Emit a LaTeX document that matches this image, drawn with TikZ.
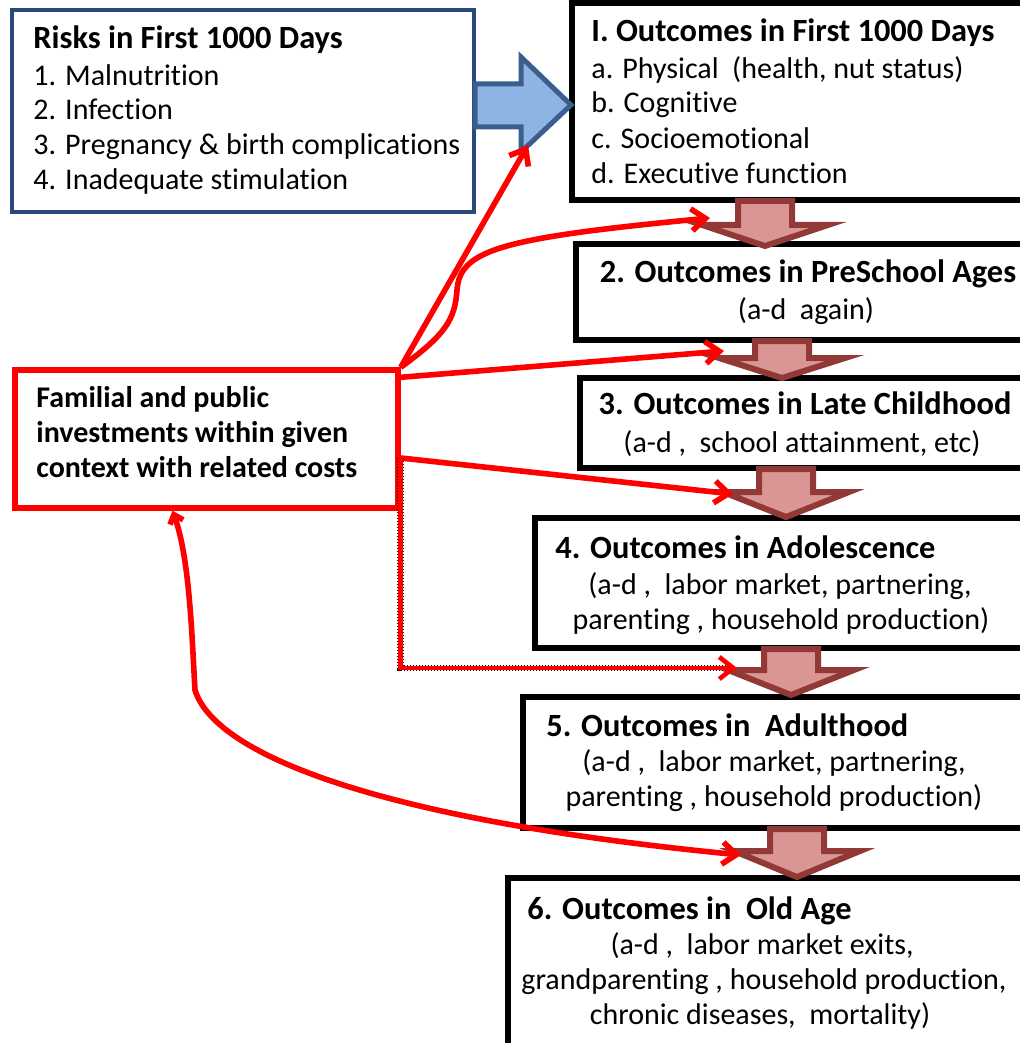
\documentclass[tikz,border=0pt]{standalone}
\usepackage{fontspec}
\setmainfont{Carlito}[Ligatures={NoCommon}]
\usetikzlibrary{arrows.meta,positioning}
\definecolor{RiskBlue}{RGB}{40,74,122}
\definecolor{ArrowBlue}{RGB}{142,180,227}
\definecolor{ArrowBlueDark}{RGB}{58,94,142}
\definecolor{BrownDark}{RGB}{146,56,54}
\definecolor{BrownLight}{RGB}{217,150,148}

\begin{document}
\begin{tikzpicture}[x=0.5pt,y=-0.5pt,
        riskbox/.style={draw=RiskBlue,line width=2pt,fill=white},
        outbox/.style={draw=black,line width=3pt,fill=white},
        investbox/.style={draw=red,line width=2.7pt,fill=white},
        head/.style={font=\bfseries\fontsize{16.2}{18}\selectfont,inner sep=0pt,anchor=base west},
        body/.style={font=\fontsize{15}{18}\selectfont,inner sep=0pt,anchor=base west},
        ihead/.style={head,font=\bfseries\fontsize{15}{18}\selectfont},
        mid/.style={body,anchor=base},
        midhead/.style={head,anchor=base},
        dnarrow/.style={draw=BrownDark,fill=BrownLight,line width=3pt},
        blarrow/.style={draw=ArrowBlueDark,fill=ArrowBlue,line width=2.5pt},
        link/.style={red,line width=2.8pt,-{Straight Barb[length=7pt,width=11pt]}}
      ]
        \clip (0,0) rectangle (1020,1043);
        % boxes
        \node[riskbox,minimum width=231pt,minimum height=101pt] (risks) at (243,111) {};
        \node[outbox,minimum width=231.5pt,minimum height=98.5pt] (o1) at (803.5,101.5) {};
        \node[outbox,minimum width=229.5pt,minimum height=48pt] (o2) at (805.5,292) {};
        \node[outbox,minimum width=227.5pt,minimum height=45pt] (o3) at (807.5,423) {};
        \node[outbox,minimum width=250pt,minimum height=65pt] (o4) at (785,583) {};
        \node[outbox,minimum width=256pt,minimum height=65.5pt] (o5) at (779,762.5) {};
        \node[outbox,minimum width=263.5pt,minimum height=91pt] (o6) at (771.5,969) {};
        \node[investbox,minimum width=191.5pt,minimum height=69pt] (invest) at (206.5,439) {};
        % block arrows
        \draw[blarrow] (475,84) -- (521,84) -- (521,57) -- (571,105) -- (521,152)
          -- (521,127) -- (475,127) -- cycle;
        \foreach \c/\t/\s/\p in {765/201/225/246, 782/341/358/378, 786/469/492/517,
                                 791/649/670/695, 797/829/851/877}
          \draw[dnarrow] (\c-27,\t) -- (\c+27,\t) -- (\c+27,\s) -- (\c+63,\s)
            -- (\c,\p) -- (\c-63,\s) -- (\c-27,\s) -- cycle;
        % arrow targets
        \coordinate (t1) at (528,145);
        \coordinate (t2) at (710,218);
        \coordinate (t3) at (724,351);
        \coordinate (t4) at (733,494);
        \coordinate (t5) at (737,668);
        \coordinate (t6) at (741,855);
        % texts
        \node[head] (r0) at (33,49) {Risks in First 1000 Days};
        \node[body] (r1) at (33,86) {1. Malnutrition};
        \node[body] (r2) at (33,120) {2. Infection};
        \node[body] (r3) at (33,155) {3. Pregnancy \& birth complications};
        \node[body] (r4) at (33,190) {4. Inadequate stimulation};
        \node[head] (a0) at (591,42) {I. Outcomes in First 1000 Days};
        \node[body] (a1) at (591,79) {a. Physical\ \ (health, nut\ status)};
        \node[body] (a2) at (591,113) {b. Cognitive};
        \node[body] (a3) at (591,149) {c. Socioemotional};
        \node[body] (a4) at (591,184) {d. Executive function};
        \node[midhead] (b0) at (808,282) {2. Outcomes in PreSchool Ages};
        \node[mid] (b1) at (806,319) {(a-d\ \ again)};
        \node[midhead] (c0) at (805,414) {3. Outcomes in Late Childhood};
        \node[mid] (c1) at (802,452) {(a-d ,\ \ school attainment, etc)};
        \node[head] (d0) at (555,558) {4. Outcomes in Adolescence};
        \node[mid] (d1) at (780,594) {(a-d ,\ \ labor market, partnering,};
        \node[mid] (d2) at (781,629) {parenting , household production)};
        \node[head] (e0) at (546,736) {5. Outcomes in\ \ Adulthood};
        \node[mid] (e1) at (774,771) {(a-d ,\ \ labor market, partnering,};
        \node[mid] (e2) at (774,806) {parenting , household production)};
        \node[head] (f0) at (527,919) {6. Outcomes in\ \ Old Age};
        \node[mid] (f1) at (762,954) {(a-d ,\ \ labor market exits,};
        \node[mid] (f2) at (764,989) {grandparenting , household production,};
        \node[mid] (f3) at (760,1024) {chronic diseases,\ \ mortality)};
        \node[ihead] (i0) at (36,407) {Familial and public};
        \node[ihead] (i1) at (36,442) {investments within given};
        \node[ihead] (i2) at (36,477) {context with related costs};
        % red connectors
        \draw[link] (invest.north east) -- (t1);
        \draw[link] (invest.north east) .. controls (445,335) and (455,320) .. (457,290)
          .. controls (460,250) and (500,238) .. (t2);
        \draw[link] ([yshift=-5pt]invest.north east) -- (t3);
        \draw[link] ([yshift=-9.5pt]invest.east) -- (t4);
        \draw[black,line width=3.4pt,dash pattern=on 0.6pt off 0.9pt] ([yshift=-9.5pt]invest.east) |- ([xshift=-6pt]t5);
        \draw[link,line width=2.3pt] ([yshift=-9.5pt]invest.east) |- (t5);
        \draw[link,{Straight Barb[length=4pt,width=7pt]}-{Straight Barb[length=7pt,width=11pt]}]
          ([xshift=-17pt]invest.south) .. controls (190,560) and (192,640) .. (195,690)
          .. controls (215,755) and (380,820) .. (t6);
      \end{tikzpicture}
\end{document}
